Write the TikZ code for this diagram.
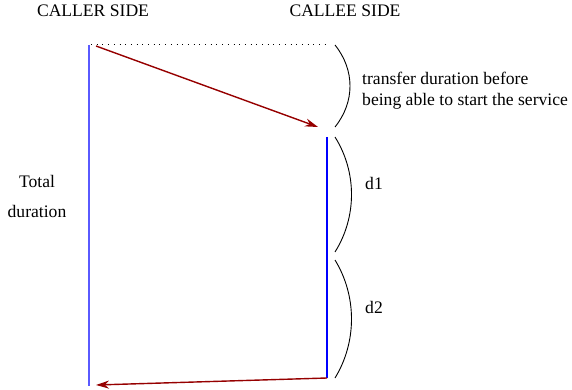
\documentclass[tikz,border=0pt]{standalone}
\usepackage{fontspec}
\setmainfont{Liberation Serif}
\usetikzlibrary{arrows.meta}
\definecolor{arrowred}{RGB}{150,0,0}
\definecolor{softblue}{RGB}{90,90,255}
\tikzset{
  lbl/.style={inner sep=0pt, font=\fontsize{17.6}{21}\selectfont},
  sideline/.style={draw=blue, line width=1.2pt},
  msg/.style={draw=arrowred, fill=arrowred, line width=1.4pt, -{Stealth[length=13pt,width=8pt]}},
  brace/.style={draw=black, line width=0.9pt},
  guide/.style={draw=black, line width=1pt, dash pattern=on 1pt off 4.7pt}
}
\begin{document}
\begin{tikzpicture}[x=1pt,y=-1pt]
\useasboundingbox (0,0) rectangle (572,390);
% coordinates
\coordinate (callerTop) at (89,45);
\coordinate (callerBot) at (89,386);
\coordinate (calleeTop) at (327,137);
\coordinate (calleeBot) at (327,378);
\coordinate (sendStart) at (96,46);
\coordinate (sendEnd) at (318,127);
\coordinate (retEnd) at (96,385);
\coordinate (dotStart) at (91,45);
\coordinate (dotEnd) at (325,45);
\coordinate (a1s) at (335,45);
\coordinate (a1e) at (335,127);
\coordinate (a2s) at (335,137);
\coordinate (a2e) at (335,252);
\coordinate (a3s) at (335,260);
\coordinate (a3e) at (335,378);
% labels
\node[lbl] (caller) at (93,11) {CALLER SIDE};
\node[lbl] (callee) at (345,11) {CALLEE SIDE};
\node[lbl, anchor=west] (tr1) at (362,78) {transfer duration before};
\node[lbl, anchor=west] (tr2) at (362,101) {being able to start the service};
\node[lbl, anchor=west] (d1) at (365,183) {d1};
\node[lbl, anchor=west] (d2) at (365,307) {d2};
\node[lbl] (tot1) at (37,181) {Total};
\node[lbl] (tot2) at (37,211) {duration};
% timelines
\path[sideline, draw=softblue] (callerTop) -- (callerBot);
\path[sideline] (calleeTop) -- (calleeBot);
% dotted guide
\path[guide] (dotStart) -- (dotEnd);
% messages
\path[msg] (sendStart) -- (sendEnd);
\path[msg] (calleeBot) -- (retEnd);
% braces
\path[brace] (a1s) .. controls (355,70) and (355,102) .. (a1e);
\path[brace] (a2s) .. controls (357,172) and (357,217) .. (a2e);
\path[brace] (a3s) .. controls (357,296) and (357,342) .. (a3e);
\end{tikzpicture}
\end{document}
